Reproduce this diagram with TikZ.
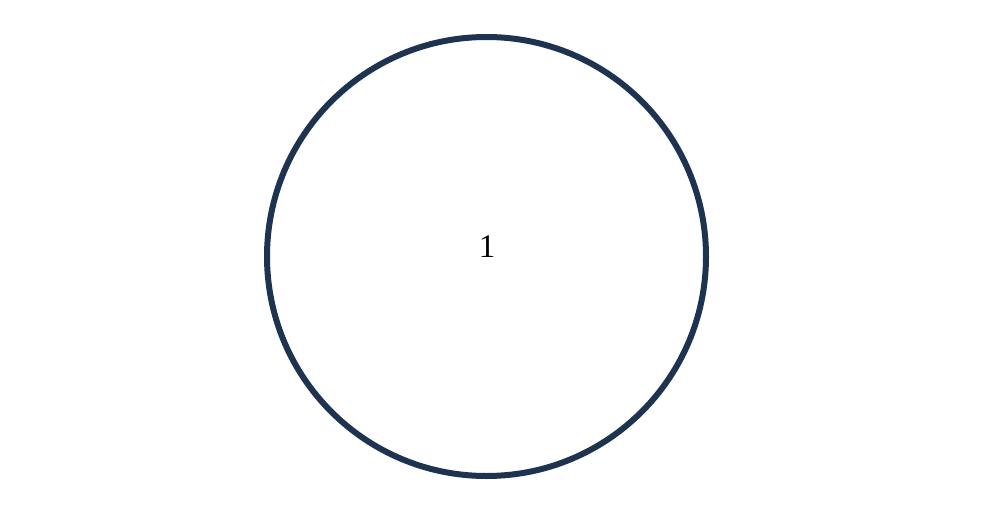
\documentclass[tikz,border=0pt]{standalone}
\usepackage{fontspec}
\setmainfont{Liberation Serif}
\definecolor{navy}{HTML}{1E3350}
\begin{document}
\begin{tikzpicture}[x=1pt,y=-1pt,
  ring/.style={circle, draw=navy, line width=6pt, minimum size=439pt, inner sep=0pt}]
\useasboundingbox[fill=white] (0,0) rectangle (987,519);
\node[ring] (c) at (486.5,256.5) {};
\node[font=\fontsize{33}{38}\selectfont, inner sep=0pt] (l) at (487,247) {1};
\end{tikzpicture}
\end{document}
